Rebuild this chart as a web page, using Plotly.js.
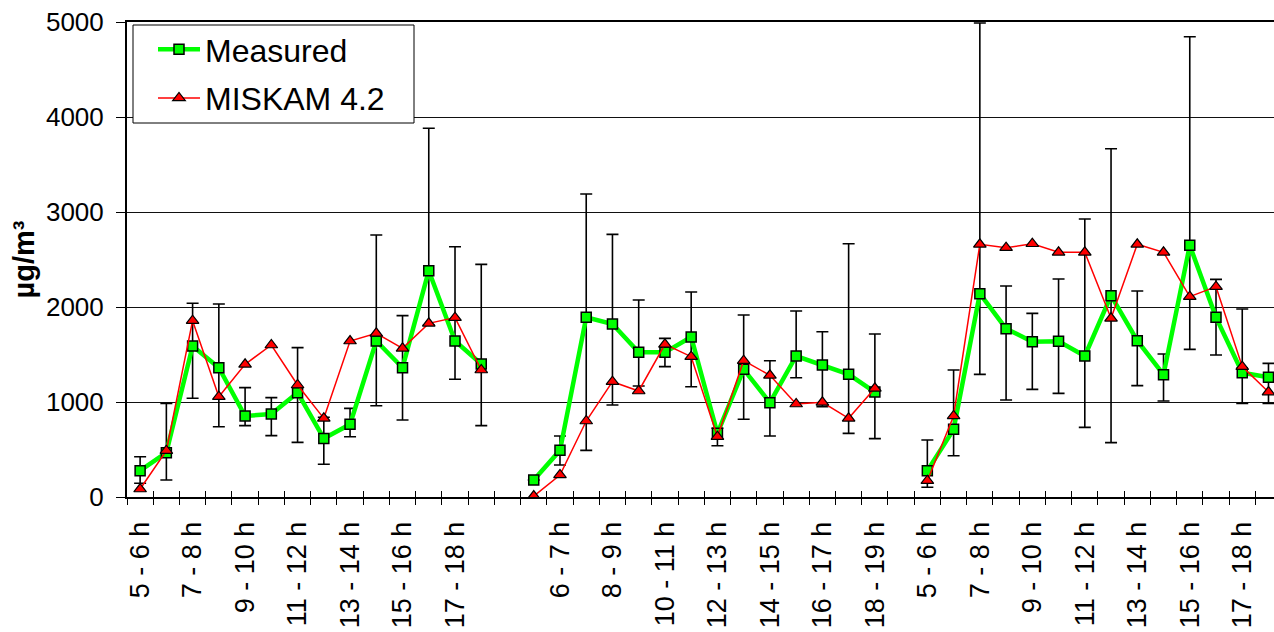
<!DOCTYPE html>
<html>
<head>
<meta charset="utf-8">
<script src="https://cdn.plot.ly/plotly-3.0.1.min.js"></script>
<style>html,body{margin:0;padding:0;background:#fff;}#chart{width:1274px;height:632px;}</style>
</head>
<body>
<div id="chart"></div>
<script>
// Hour categories of each day group
const hours = ["5 - 6 h","6 - 7 h","7 - 8 h","8 - 9 h","9 - 10 h","10 - 11 h","11 - 12 h","12 - 13 h","13 - 14 h","14 - 15 h","15 - 16 h","16 - 17 h","17 - 18 h","18 - 19 h"];
const groupStarts = [0, 15, 30]; // category slot of each day's first hour (one empty slot between days)

// Measured mean values (µg/m³), one array per day
const measured1 = [277, 467, 1589, 1361, 853, 874, 1098, 617, 765, 1642, 1361, 2382, 1642, 1400];
const measured2 = [179, 491, 1891, 1821, 1523, 1523, 1684, 670, 1344, 993, 1484, 1389, 1291, 1105];
const measured3 = [277, 712, 2140, 1772, 1635, 1639, 1484, 2119, 1646, 1288, 2649, 1891, 1309, 1260];

// Error bar upper / lower ends of Measured
const upper1 = [424, 986, 2039, 2032, 1151, 1046, 1572, 839, 933, 2758, 1909, 3881, 2635, 2449];
const lower1 = [144, 179, 1039, 740, 751, 646, 575, 344, 635, 961, 811, 1811, 1239, 751];
const upper2 = [179, 642, 3189, 2765, 2074, 1670, 2158, 723, 1916, 1435, 1958, 1740, 2666, 1716];
const lower2 = [179, 337, 491, 968, 1168, 1372, 1161, 540, 818, 642, 1256, 951, 670, 614];
const upper3 = [600, 1337, 4990, 2221, 1933, 2295, 2926, 3666, 2168, 1505, 4845, 2291, 1979, 1407];
const lower3 = [102, 435, 1291, 1021, 1133, 1091, 733, 572, 1172, 1010, 1554, 1495, 986, 986];

// MISKAM 4.2 model values
const miskam1 = [84, 488, 1856, 1056, 1397, 1600, 1179, 828, 1642, 1723, 1565, 1828, 1888, 1337];
const miskam2 = [10, 232, 800, 1214, 1116, 1607, 1477, 635, 1435, 1281, 979, 997, 828, 1144];
const miskam3 = [172, 853, 2660, 2624, 2666, 2576, 2576, 1881, 2660, 2576, 2109, 2214, 1372, 1105];

const yTicks = [0, 1000, 2000, 3000, 4000, 5000];

// ---- build traces ----
function build(groups) {
  const x = [], y = [];
  groups.forEach((arr, g) => {
    arr.forEach((v, i) => { x.push(groupStarts[g] + i); y.push(v); });
    if (g < groups.length - 1) { x.push(groupStarts[g] + arr.length); y.push(null); }
  });
  return {x, y};
}
const meas = build([measured1, measured2, measured3]);
const up = build([upper1, upper2, upper3]).y;
const lo = build([lower1, lower2, lower3]).y;
const mis = build([miskam1, miskam2, miskam3]);
const errPlus = meas.y.map((v, i) => v == null ? null : up[i] - v);
const errMinus = meas.y.map((v, i) => v == null ? null : v - lo[i]);

// category slots and tick labels
const slots = [];
groupStarts.forEach((s) => { hours.forEach((h, i) => { slots[s + i] = h; }); });
const nSlots = groupStarts[2] + hours.length;
const tickvals = [], ticktext = [];
for (let i = 0; i < nSlots; i += 2) { tickvals.push(i); ticktext.push(slots[i] || ""); }

const FONT = "Liberation Sans, Arial, sans-serif";
const xr = [-0.5, 43.21];

const traces = [
  {
    type: "scatter", mode: "lines+markers", name: "Measured", legendgroup: "a",
    x: meas.x, y: meas.y, connectgaps: false,
    line: {color: "#00FF00", width: 4.5},
    marker: {symbol: "square", size: 10, color: "#00FF00", line: {color: "#000", width: 1.5}},
    error_y: {type: "data", symmetric: false, array: errPlus, arrayminus: errMinus,
              color: "#000", thickness: 1.6, width: 6}
  },
  {
    type: "scatter", mode: "lines+markers", name: "MISKAM 4.2", legendgroup: "b",
    x: mis.x, y: mis.y, connectgaps: false,
    line: {color: "#FF0000", width: 1.5},
    marker: {symbol: "triangle-up", size: 11, color: "#FF0000", line: {color: "#000", width: 1.2}}
  },
  { type: "scatter", x: [xr[0]], y: [null], xaxis: "x2", yaxis: "y", showlegend: false, hoverinfo: "skip" }
];

const layout = {
  width: 1274, height: 632,
  margin: {l: 127, r: 0, t: 22, b: 135},
  paper_bgcolor: "#fff", plot_bgcolor: "#fff",
  font: {family: FONT, color: "#000", size: 26},
  showlegend: true,
  legend: {
    x: (153 - 127) / 1147, y: (497 - 22) / 475, xanchor: "left", yanchor: "top",
    bgcolor: "rgba(0,0,0,0)", borderwidth: 0,
    font: {family: FONT, size: 32, color: "#000"},
    itemwidth: 42, traceorder: "grouped", tracegroupgap: 4
  },
  shapes: [{
    type: "rect", xref: "paper", yref: "paper", layer: "above",
    x0: (133 - 127) / 1147, x1: (414 - 127) / 1147,
    y0: (497 - 123) / 475, y1: (497 - 25) / 475,
    fillcolor: "#fff", line: {color: "#000", width: 1}
  }],
  xaxis: {
    range: xr, autorange: false, type: "linear",
    tickmode: "array", tickvals: tickvals, ticktext: ticktext,
    tickangle: -90, ticks: "", ticklabelstandoff: 12,
    tickfont: {family: FONT, size: 27, color: "#000"},
    showgrid: false, zeroline: false,
    showline: true, linecolor: "#000", linewidth: 2, mirror: true,
    minor: {tickmode: "linear", tick0: -0.5, dtick: 1, ticks: "outside", ticklen: 6, tickcolor: "#000", tickwidth: 1, showgrid: false},
    automargin: false, fixedrange: true
  },
  xaxis2: {
    overlaying: "x", anchor: "y", side: "bottom", range: xr, autorange: false, type: "linear",
    tickmode: "linear", tick0: -0.5, dtick: 1, ticks: "inside", ticklen: 6, tickcolor: "#000", tickwidth: 1,
    showticklabels: false, showgrid: false, zeroline: false, showline: false, automargin: false
  },
  yaxis: {
    range: [0, 5000], autorange: false,
    tickmode: "array", tickvals: yTicks, ticktext: yTicks.map(String),
    ticks: "outside", ticklen: 9, tickcolor: "#000", tickwidth: 1,
    ticklabelstandoff: 7,
    tickfont: {family: FONT, size: 26, color: "#000"},
    showgrid: true, gridcolor: "#111", gridwidth: 1,
    zeroline: false, showline: true, linecolor: "#000", linewidth: 2,
    title: {text: "µg/m³", font: {family: FONT, size: 29, color: "#000", weight: "bold"}, standoff: 3},
    automargin: false, fixedrange: true
  }
};

Plotly.newPlot("chart", traces, layout, {staticPlot: true, displayModeBar: false});
</script>
</body>
</html>
